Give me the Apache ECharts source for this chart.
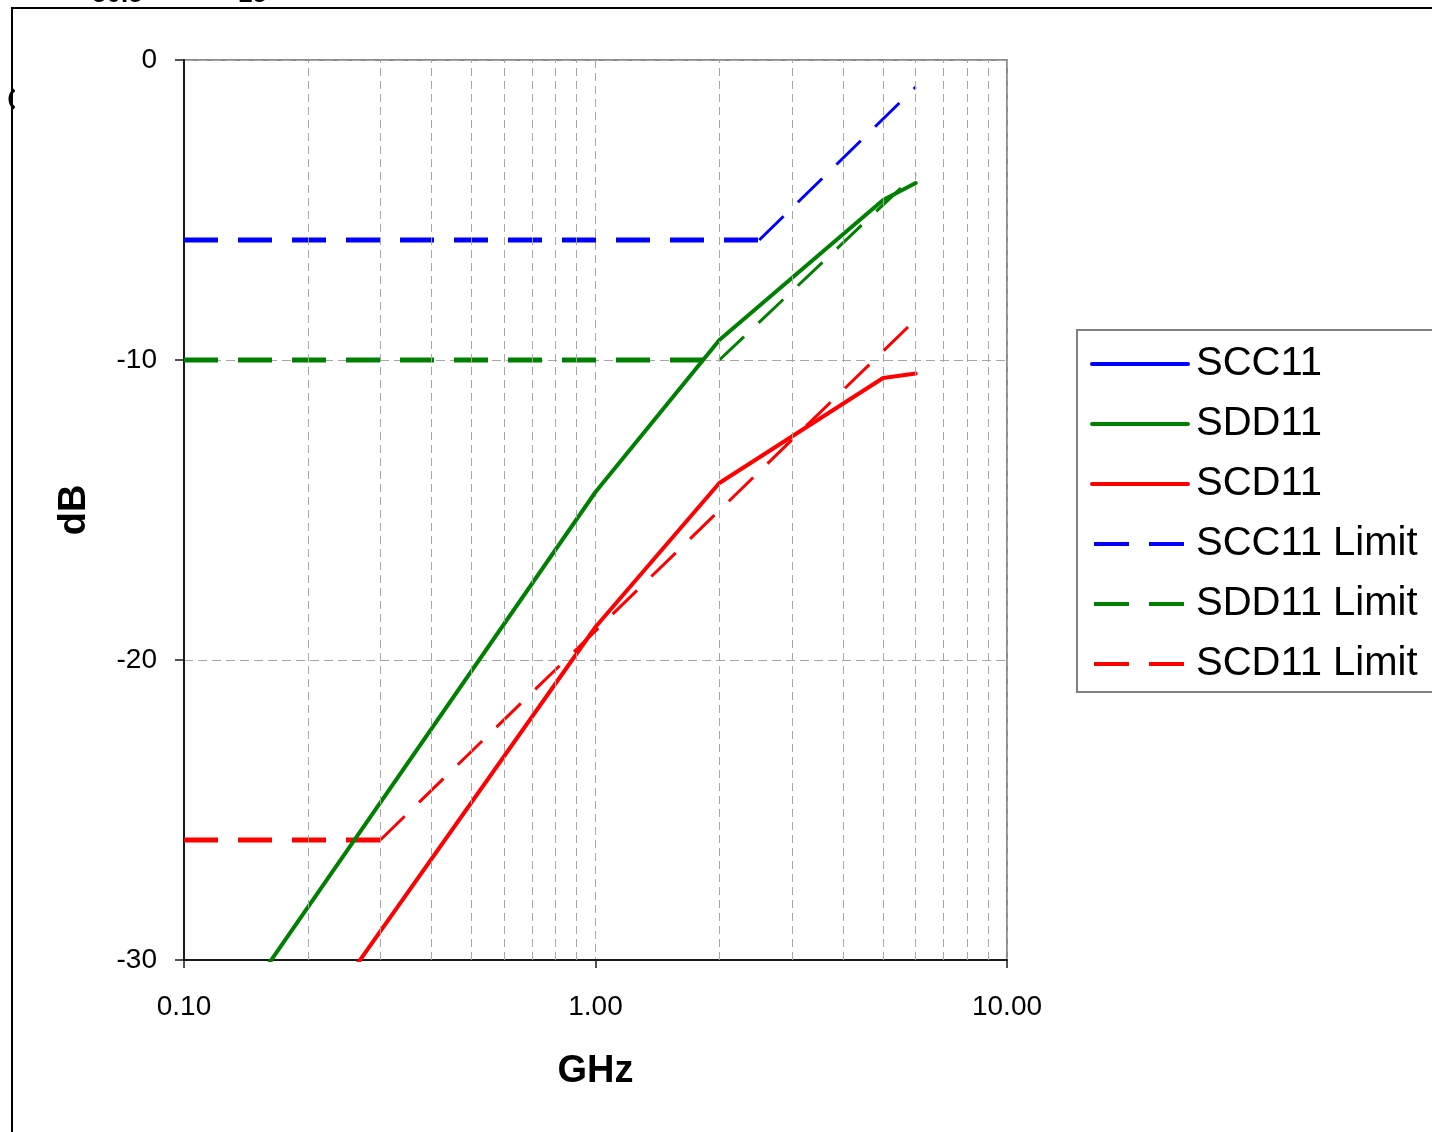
<!DOCTYPE html>
<html>
<head>
<meta charset="utf-8">
<script src="https://cdn.jsdelivr.net/npm/echarts@6/dist/echarts.min.js"></script>
<style>
html,body{margin:0;padding:0;background:#fff;}
#chart{width:1432px;height:1132px;}
</style>
</head>
<body>
<div id="chart"></div>
<script>
// ---- data ----
const seriesNames = ['SCC11', 'SDD11', 'SCD11', 'SCC11 Limit', 'SDD11 Limit', 'SCD11 Limit'];
const minorGridFreqs = [0.2, 0.3, 0.4, 0.5, 0.6, 0.7, 0.8, 0.9, 2, 3, 4, 5, 6, 7, 8, 9];

const measFreq = [0.1, 1, 2, 5, 6];           // GHz
const scc11 = [];                              // not visible in the plotted range
const sdd11 = [-34.2, -14.4, -9.33, -4.67, -4.1];
const scd11 = [-38.3, -18.9, -14.1, -10.6, -10.45];

const sccLimitFreq = [0.1, 2.5, 6];
const sccLimit = [-6, -6, -0.9];
const sddLimitFreq = [0.1, 2, 6];
const sddLimit = [-10, -10, -3.8];
const scdLimitFreq = [0.1, 0.3, 6];
const scdLimit = [-26, -26, -8.65];

// ---- helpers ----
const pairs = (xs, ys) => ys.map((y, i) => [xs[i], y]);
const FONT = "'Liberation Sans', Arial, sans-serif";
const BLUE = '#0000ff', GREEN = '#008000', RED = '#ff0000';
const GRID_COLOR = '#a6a6a6';

function solid(name, color, data) {
  return {
    name, type: 'line', data, showSymbol: false, symbol: 'none', z: 4,
    lineStyle: { color, width: 4, cap: 'round', join: 'round' },
    itemStyle: { color }, animation: false
  };
}
function limitParts(name, color, xs, ys) {
  const d = pairs(xs, ys);
  return [
    { name, type: 'line', data: d.slice(0, 2), showSymbol: false, symbol: 'none', z: 3,
      lineStyle: { color, width: 5, type: [34, 20], cap: 'butt' }, itemStyle: { color }, animation: false },
    { name, type: 'line', data: d.slice(1), showSymbol: false, symbol: 'none', z: 3,
      lineStyle: { color, width: 3, type: [34, 20], cap: 'butt' }, itemStyle: { color }, animation: false }
  ];
}

const chart = echarts.init(document.getElementById('chart'), null, { renderer: 'canvas' });

const legendColors = [BLUE, GREEN, RED, BLUE, GREEN, RED];
const option = {
  backgroundColor: '#ffffff',
  animation: false,
  textStyle: { fontFamily: FONT },
  grid: {
    left: 184, top: 60, right: 425, bottom: 172,
    show: true, borderColor: '#8c8c8c', borderWidth: 2, backgroundColor: 'transparent'
  },
  legend: {
    orient: 'vertical', left: 1077, top: 330,
    itemWidth: 96, itemHeight: 14, itemGap: 16,
    padding: [12, 40, 6, 13],
    borderColor: '#808080', borderWidth: 2, backgroundColor: '#fff',
    textStyle: { fontFamily: FONT, fontSize: 40, color: '#000', lineHeight: 44, padding: [0, 0, 0, 3] },
    data: seriesNames.map((n, i) => ({
      name: n,
      itemStyle: { color: legendColors[i], opacity: 0 },
      lineStyle: i < 3
        ? { color: legendColors[i], width: 4, type: 'solid', cap: 'round', opacity: 1 }
        : { color: legendColors[i], width: 4, type: [35, 20], dashOffset: 53, cap: 'butt', opacity: 1 }
    })),
    selectedMode: false
  },
  xAxis: {
    type: 'log', logBase: 10, min: 0.1, max: 10,
    name: 'GHz', nameLocation: 'middle', nameGap: 93,
    nameTextStyle: { fontFamily: FONT, fontSize: 38, fontWeight: 'bold', color: '#000' },
    axisLine: { show: true, onZero: false, lineStyle: { color: '#1a1a1a', width: 2 } },
    axisTick: { show: true, inside: false, length: 8, lineStyle: { color: '#1a1a1a', width: 1.5 } },
    axisLabel: { fontFamily: FONT, fontSize: 28, color: '#000', margin: 33,
      formatter: v => Number(v).toFixed(2) },
    splitLine: { show: true, lineStyle: { color: GRID_COLOR, width: 1, type: [8, 5] } },
    minorTick: { show: false }, minorSplitLine: { show: false }
  },
  yAxis: {
    type: 'value', min: -30, max: 0, interval: 10,
    name: 'dB', nameLocation: 'middle', nameGap: 90, nameRotate: 90,
    nameTextStyle: { fontFamily: FONT, fontSize: 38, fontWeight: 'bold', color: '#000' },
    axisLine: { show: true, onZero: false, lineStyle: { color: '#1a1a1a', width: 2 } },
    axisTick: { show: true, inside: false, length: 9, lineStyle: { color: '#1a1a1a', width: 1.5 } },
    axisLabel: { fontFamily: FONT, fontSize: 28, color: '#000', margin: 27 },
    splitLine: { show: true, lineStyle: { color: GRID_COLOR, width: 1, type: [9, 5] } }
  },
  graphic: [
    { type: 'rect', z: 100, silent: true,
      shape: { x: 12, y: 8, width: 1440, height: 1140 },
      style: { fill: 'none', stroke: '#000', lineWidth: 2 } },
    { type: 'arc', z: 100, silent: true,
      shape: { cx: 22, cy: 99, r: 12, startAngle: Math.PI * 0.72, endAngle: Math.PI * 1.28 },
      style: { fill: 'none', stroke: '#000', lineWidth: 3 } },
    { type: 'text', z: 99, silent: true, left: 92, top: -18,
      style: { text: '50.5', font: "bold 26px 'Liberation Sans', Arial, sans-serif", fill: '#000' } },
    { type: 'text', z: 99, silent: true, left: 238, top: -18,
      style: { text: '15', font: "bold 26px 'Liberation Sans', Arial, sans-serif", fill: '#000' } }
  ],
  series: [
    {
      name: '__grid', type: 'line', data: [], z: 1, silent: true, animation: false,
      markLine: {
        silent: true, symbol: ['none', 'none'], animation: false,
        label: { show: false },
        lineStyle: { color: GRID_COLOR, width: 1, type: [8, 5] },
        data: minorGridFreqs.map(f => ({ xAxis: f }))
      }
    },
    solid('SCC11', BLUE, pairs(measFreq, scc11)),
    solid('SDD11', GREEN, pairs(measFreq, sdd11)),
    solid('SCD11', RED, pairs(measFreq, scd11)),
    ...limitParts('SCC11 Limit', BLUE, sccLimitFreq, sccLimit),
    ...limitParts('SDD11 Limit', GREEN, sddLimitFreq, sddLimit),
    ...limitParts('SCD11 Limit', RED, scdLimitFreq, scdLimit)
  ]
};
chart.setOption(option);
</script>
</body>
</html>
